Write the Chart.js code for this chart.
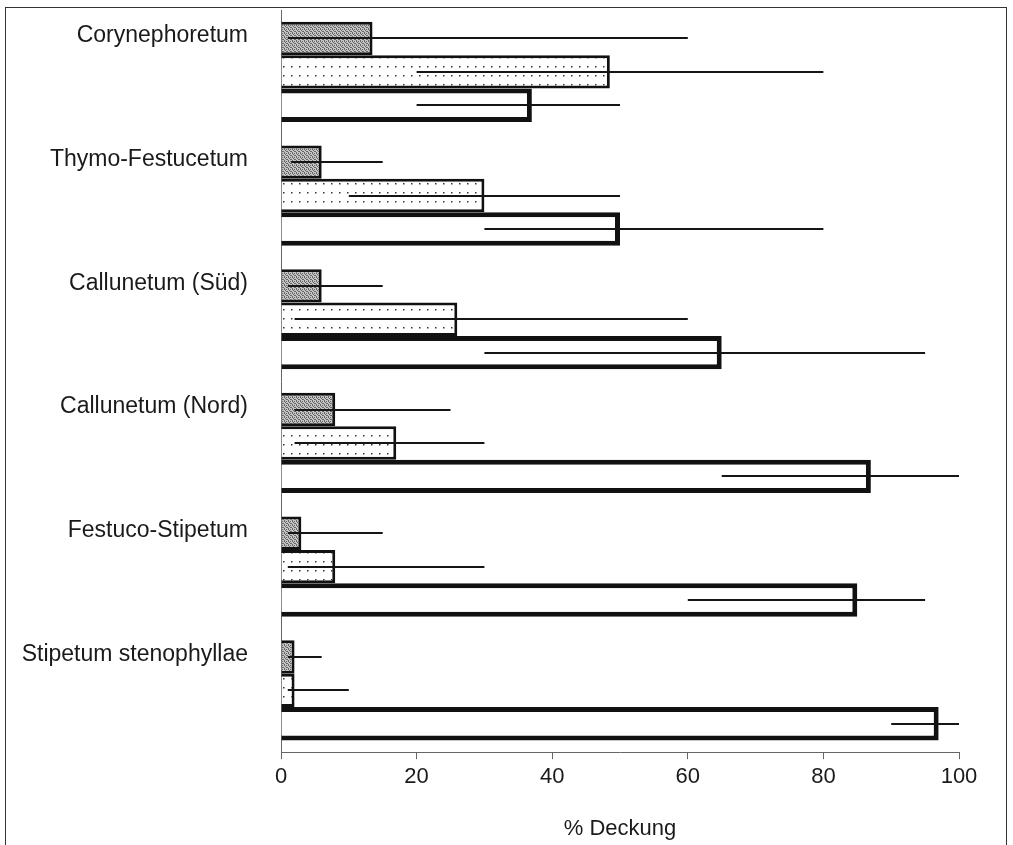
<!DOCTYPE html>
<html>
<head>
<meta charset="utf-8">
<script src="https://cdn.jsdelivr.net/npm/chart.js@4.4.0/dist/chart.umd.min.js"></script>
<style>
  html, body { margin: 0; padding: 0; background: #fff; }
  #wrap { position: relative; width: 1013px; height: 845px; overflow: hidden; }
  #frame { position: absolute; left: 5px; top: 7px; width: 1000px; height: 860px; border: 1.5px solid #333; pointer-events: none; }
  canvas { position: absolute; left: 0; top: 0; }
</style>
</head>
<body>
<div id="wrap">
  <canvas id="chart" width="1013" height="845"></canvas>
  <div id="frame"></div>
</div>
<script>
// Gesellschaften
const categories = ['Corynephoretum', 'Thymo-Festucetum', 'Callunetum (Süd)', 'Callunetum (Nord)', 'Festuco-Stipetum', 'Stipetum stenophyllae'];

// Reihe 1 (dunkel)
const darkValues = [13.5, 6, 6, 8, 3, 2];
const darkMin = [1, 1.5, 1, 2, 1, 1];
const darkMax = [60, 15, 15, 25, 15, 6];

// Reihe 2 (gepunktet)
const dotValues = [48.5, 30, 26, 17, 8, 2];
const dotMin = [20, 10, 2, 2, 1, 1];
const dotMax = [80, 50, 60, 30, 30, 10];

// Reihe 3 (weiss)
const whiteValues = [37, 50, 65, 87, 85, 97];
const whiteMin = [20, 30, 30, 65, 60, 90];
const whiteMax = [50, 80, 95, 100, 95, 100];

const xTicks = [0, 20, 40, 60, 80, 100];

// Muster fuer die Balkenfuellung
function makeDarkPattern() {
  const c = document.createElement('canvas');
  c.width = 4; c.height = 4;
  const g = c.getContext('2d');
  g.fillStyle = '#c4c4c4';
  g.fillRect(0, 0, 4, 4);
  g.fillStyle = '#666';
  g.fillRect(0, 0, 1, 1); g.fillRect(2, 1, 1, 1);
  g.fillRect(1, 2, 1, 1); g.fillRect(3, 3, 1, 1);
  g.fillRect(2, 3, 1, 1); g.fillRect(0, 1, 1, 1);
  return g.createPattern(c, 'repeat');
}

function makeDotPattern() {
  const c = document.createElement('canvas');
  c.width = 8; c.height = 9;
  const g = c.getContext('2d');
  g.fillStyle = '#ffffff';
  g.fillRect(0, 0, 8, 9);
  g.fillStyle = '#333';
  g.fillRect(3, 3, 1.5, 1.5);
  return g.createPattern(c, 'repeat');
}

const ranges = [[darkMin, darkMax], [dotMin, dotMax], [whiteMin, whiteMax]];

// Fehlerbalken (Spannweite) als waagrechte Linien
const rangePlugin = {
  id: 'rangeLines',
  afterDatasetsDraw(chart) {
    const ctx = chart.ctx;
    const x = chart.scales.x;
    ctx.save();
    ctx.strokeStyle = '#151515';
    ctx.lineWidth = 2;
    ranges.forEach((r, di) => {
      const meta = chart.getDatasetMeta(di);
      meta.data.forEach((bar, i) => {
        const y = Math.round(bar.y);
        ctx.beginPath();
        ctx.moveTo(x.getPixelForValue(r[0][i]), y);
        ctx.lineTo(x.getPixelForValue(r[1][i]), y);
        ctx.stroke();
      });
    });
    ctx.restore();
  }
};

// Beschriftung der Gesellschaften oben an der Gruppe
const labelPlugin = {
  id: 'catLabels',
  afterDraw(chart) {
    const ctx = chart.ctx;
    const y = chart.scales.y;
    ctx.save();
    ctx.font = '23px "Liberation Sans", Arial, sans-serif';
    ctx.fillStyle = '#1a1a1a';
    ctx.textAlign = 'right';
    ctx.textBaseline = 'middle';
    categories.forEach((c, i) => {
      ctx.fillText(c, 248, y.getPixelForValue(i) - 36);
    });
    ctx.restore();
  }
};

new Chart(document.getElementById('chart'), {
  type: 'bar',
  data: {
    labels: categories,
    datasets: [
      { label: 'Reihe 1', data: darkValues, backgroundColor: makeDarkPattern(), borderColor: '#111', borderWidth: 3 },
      { label: 'Reihe 2', data: dotValues, backgroundColor: makeDotPattern(), borderColor: '#111', borderWidth: 3 },
      { label: 'Reihe 3', data: whiteValues, backgroundColor: '#ffffff', borderColor: '#111', borderWidth: 5 }
    ]
  },
  options: {
    indexAxis: 'y',
    responsive: false,
    animation: false,
    layout: { padding: { left: 281, right: 54, top: 10, bottom: 0 } },
    datasets: { bar: { categoryPercentage: 0.81, barPercentage: 1.0, borderSkipped: 'start' } },
    plugins: { legend: { display: false }, tooltip: { enabled: false } },
    scales: {
      y: {
        ticks: { display: false },
        grid: { display: false },
        border: { color: '#666', width: 1 },
        afterFit(s) { s.width = 0; }
      },
      x: {
        min: 0, max: 100,
        afterBuildTicks(s) { s.ticks = xTicks.map(v => ({ value: v })); },
        ticks: { font: { size: 22, family: '"Liberation Sans", Arial, sans-serif' }, color: '#1a1a1a', padding: 5 },
        grid: { drawOnChartArea: false, drawTicks: true, tickLength: 7, color: '#666' },
        border: { color: '#666', width: 1 },
        title: { display: true, text: '% Deckung', color: '#1a1a1a', font: { size: 22, family: '"Liberation Sans", Arial, sans-serif' }, padding: { top: 20, bottom: 3 } }
      }
    }
  },
  plugins: [rangePlugin, labelPlugin]
});
</script>
</body>
</html>
